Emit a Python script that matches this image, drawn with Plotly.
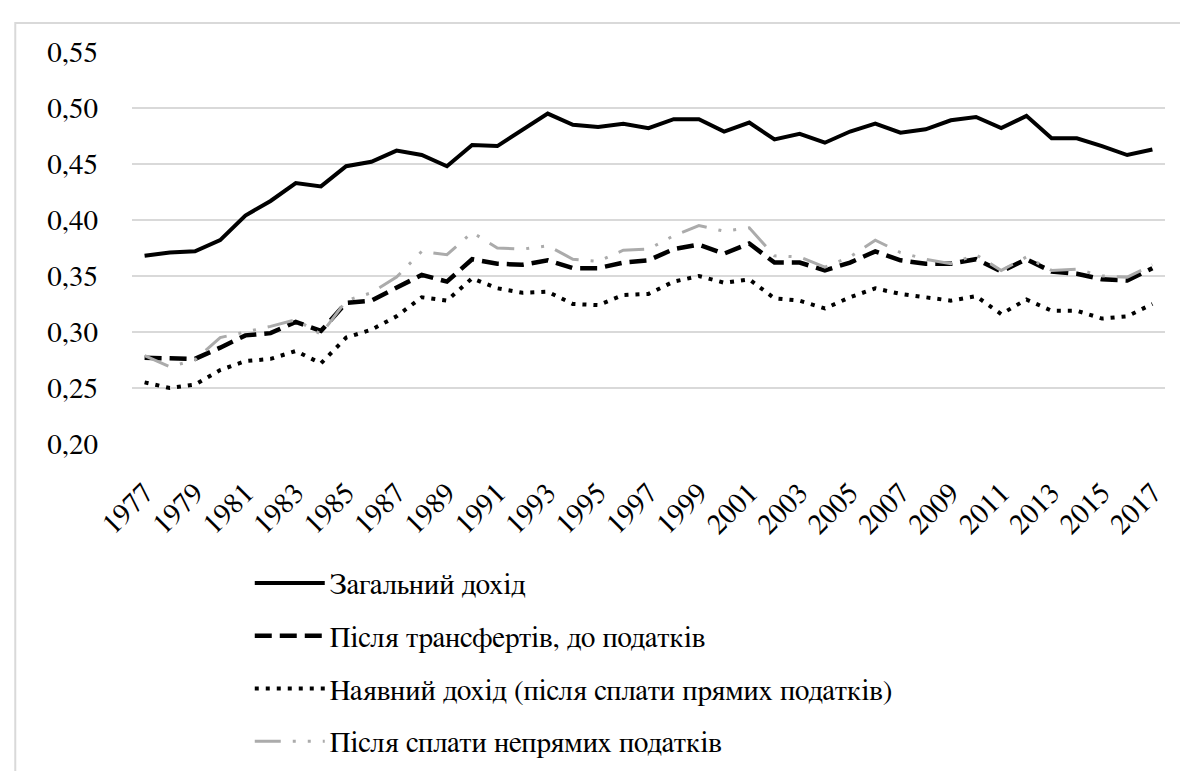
import plotly.graph_objects as go

# years on the x axis
years = list(range(1977, 2018))

# Gini coefficients
total_income = [0.368, 0.371, 0.372, 0.382, 0.404, 0.417, 0.433, 0.430, 0.448, 0.452,
                0.462, 0.458, 0.448, 0.467, 0.466, 0.480, 0.495, 0.485, 0.483, 0.486,
                0.482, 0.490, 0.490, 0.479, 0.487, 0.472, 0.477, 0.469, 0.479, 0.486,
                0.478, 0.481, 0.489, 0.492, 0.482, 0.493, 0.473, 0.473, 0.466, 0.458, 0.463]
after_transfers = [0.277, 0.276, 0.276, 0.286, 0.297, 0.299, 0.309, 0.301, 0.326, 0.328,
                   0.340, 0.351, 0.345, 0.365, 0.361, 0.360, 0.364, 0.357, 0.357, 0.362,
                   0.364, 0.374, 0.378, 0.370, 0.379, 0.362, 0.362, 0.355, 0.362, 0.372,
                   0.364, 0.361, 0.361, 0.365, 0.354, 0.365, 0.354, 0.352, 0.347, 0.346, 0.357]
disposable = [0.255, 0.250, 0.253, 0.266, 0.274, 0.276, 0.283, 0.272, 0.295, 0.302,
              0.314, 0.331, 0.328, 0.348, 0.339, 0.335, 0.336, 0.325, 0.324, 0.333,
              0.334, 0.345, 0.350, 0.344, 0.347, 0.330, 0.328, 0.321, 0.331, 0.339,
              0.334, 0.331, 0.328, 0.332, 0.316, 0.329, 0.319, 0.319, 0.312, 0.314, 0.325]
after_indirect = [0.279, 0.269, 0.275, 0.295, 0.300, 0.305, 0.311, 0.298, 0.328, 0.335,
                  0.349, 0.372, 0.369, 0.389, 0.375, 0.374, 0.377, 0.365, 0.363, 0.373,
                  0.374, 0.386, 0.395, 0.390, 0.393, 0.368, 0.367, 0.358, 0.367, 0.382,
                  0.371, 0.365, 0.361, 0.369, 0.355, 0.367, 0.355, 0.356, 0.350, 0.349, 0.360]

names = ['Загальний дохід',
         'Після трансфертів, до податків',
         'Наявний дохід (після сплати прямих податків)',
         'Після сплати непрямих податків']

# FreeSerif is the serif face that renders reliably at this size
serif_font = dict(family='FreeSerif', size=29, color='black')

fig = go.Figure()
fig.add_trace(go.Scatter(x=years, y=total_income, name=names[0], mode='lines', legendgroup='a',
                         line=dict(color='black', width=4)))
fig.add_trace(go.Scatter(x=years, y=after_transfers, name=names[1], mode='lines', legendgroup='b',
                         line=dict(color='black', width=4.5, dash='17px,8px')))
fig.add_trace(go.Scatter(x=years, y=disposable, name=names[2], mode='lines', legendgroup='c',
                         line=dict(color='black', width=4, dash='4px,7px')))
fig.add_trace(go.Scatter(x=years, y=after_indirect, name=names[3], mode='lines', legendgroup='d',
                         line=dict(color='#ababab', width=3, dash='26px,12px,3px,12px,3px,12px')))

# light border around the chart area
fig.add_shape(type='rect', xref='paper', yref='paper', x0=-0.113, x1=1.2, y0=-1.0, y1=1.074,
              line=dict(color='#d9d9d9', width=2), layer='below')

fig.update_layout(
    width=1188, height=771,
    margin=dict(l=124, r=31, t=44, b=321),
    paper_bgcolor='white', plot_bgcolor='white',
    font=serif_font,
    separators=', ',
    showlegend=True,
    legend=dict(x=0.114, y=-0.29, xanchor='left', yanchor='top', orientation='v',
                tracegroupgap=12, itemwidth=70, font=serif_font,
                bgcolor='rgba(0,0,0,0)'),
)
fig.update_xaxes(range=[1976.5, 2017.5], tick0=1977, dtick=2, tickangle=-45,
                 showgrid=False, zeroline=False, showline=False, ticks='',
                 ticklabelstandoff=25, tickfont=serif_font)
fig.update_yaxes(range=[0.2, 0.55], dtick=0.05, tickformat='.2f',
                 showgrid=True, gridcolor='#d9d9d9', gridwidth=2, zeroline=False,
                 showline=False, ticks='', ticklabelstandoff=33, tickfont=serif_font)

fig.write_html('out.html')
